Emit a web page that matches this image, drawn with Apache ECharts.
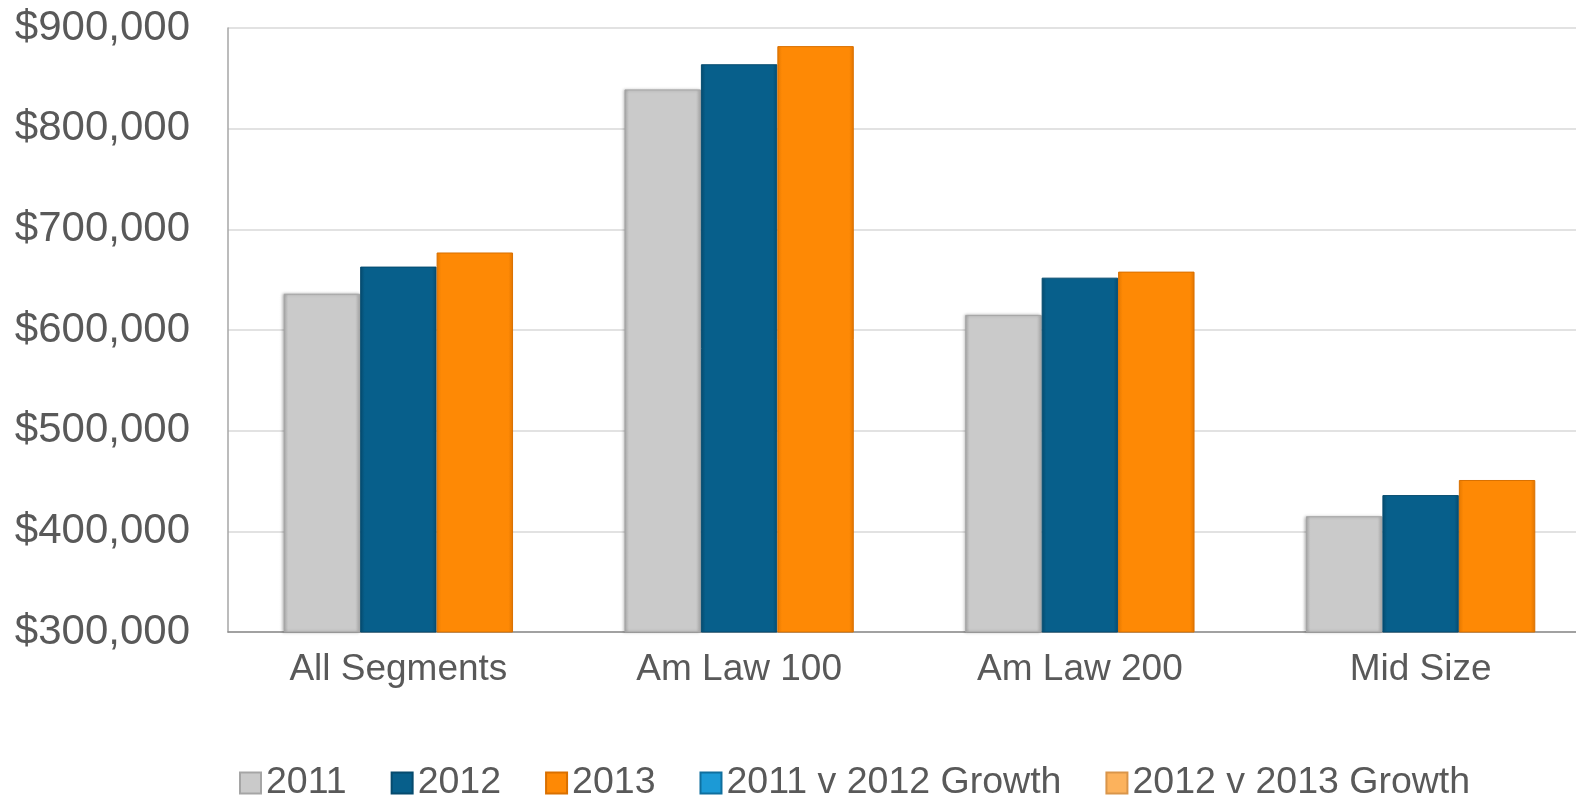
<!DOCTYPE html>
<html>
<head>
<meta charset="utf-8">
<script src="https://cdn.jsdelivr.net/npm/echarts@6/dist/echarts.min.js"></script>
<style>
html,body{margin:0;padding:0;background:#fff;overflow:hidden;}
#chart{width:1576px;height:797px;}
</style>
</head>
<body>
<div id="chart"></div>
<script>
const categories = ['All Segments', 'Am Law 100', 'Am Law 200', 'Mid Size'];
const values2011 = [636000, 839000, 615000, 415000];
const values2012 = [663000, 864000, 652000, 436000];
const values2013 = [677000, 882000, 658000, 451000];
const growth2011v2012 = [];
const growth2012v2013 = [];
const yTicks = { min: 300000, max: 900000, step: 100000 };

function grad(c1, c2, c3) {
  return new echarts.graphic.LinearGradient(0, 0, 1, 0, [
    { offset: 0, color: c1 },
    { offset: 0.06, color: c2 },
    { offset: 0.94, color: c2 },
    { offset: 1, color: c3 }
  ]);
}

const chart = echarts.init(document.getElementById('chart'), null, { renderer: 'canvas' });
const textColor = '#595959';
const font = 'Liberation Sans, Arial, sans-serif';

const barBase = {
  type: 'bar',
  xAxisIndex: 0,
  barGap: '0%',
  barCategoryGap: '32.7%'
};

chart.setOption({
  animation: false,
  backgroundColor: '#ffffff',
  textStyle: { fontFamily: font },
  grid: { left: 228, width: 1363, top: 28, bottom: 165, containLabel: false, outerBoundsMode: 'none' },
  legend: {
    left: 239,
    top: 764,
    padding: 0,
    itemWidth: 21,
    itemHeight: 21,
    itemGap: 44,
    icon: 'rect',
    textStyle: { fontSize: 37.5, color: textColor, fontFamily: font },
    data: ['2011', '2012', '2013', '2011 v 2012 Growth', '2012 v 2013 Growth']
  },
  xAxis: [
    {
      type: 'category',
      data: categories,
      axisLine: { show: true, lineStyle: { color: '#8C8C8C', width: 1.5 } },
      axisTick: { show: false },
      axisLabel: { color: textColor, fontSize: 37, fontFamily: font, margin: 19 }
    },
    {
      type: 'category',
      data: categories,
      show: false
    }
  ],
  yAxis: {
    type: 'value',
    min: yTicks.min,
    max: yTicks.max,
    interval: yTicks.step,
    axisLine: { show: true, lineStyle: { color: '#A6A6A6', width: 1.5 } },
    axisTick: { show: false },
    splitLine: { show: true, lineStyle: { color: '#D9D9D9', width: 1.5 } },
    axisLabel: {
      color: textColor,
      fontSize: 42,
      fontFamily: font,
      margin: 38,
      formatter: v => '$' + String(v).replace(/\B(?=(\d{3})+(?!\d))/g, ',')
    }
  },
  series: [
    Object.assign({}, barBase, {
      name: '2011',
      data: values2011,
      itemStyle: {
        color: grad('#A8A8A8', '#CACACA', '#B4B4B4'),
        borderColor: '#A5A5A5', borderWidth: 1,
        shadowColor: 'rgba(0,0,0,0.25)', shadowBlur: 3, shadowOffsetX: -1
      }
    }),
    Object.assign({}, barBase, {
      name: '2012',
      data: values2012,
      itemStyle: {
        color: grad('#054A6D', '#075F8B', '#054C70'),
        borderColor: '#064B6E', borderWidth: 1
      }
    }),
    Object.assign({}, barBase, {
      name: '2013',
      data: values2013,
      itemStyle: {
        color: grad('#E57800', '#FE8905', '#E07400'),
        borderColor: '#D97000', borderWidth: 1
      }
    }),
    {
      type: 'bar', name: '2011 v 2012 Growth', xAxisIndex: 1,
      data: growth2011v2012,
      itemStyle: { color: '#1C9AD6', borderColor: '#0F6F9E', borderWidth: 1 }
    },
    {
      type: 'bar', name: '2012 v 2013 Growth', xAxisIndex: 1,
      data: growth2012v2013,
      itemStyle: { color: '#FCB25C', borderColor: '#D9954A', borderWidth: 1 }
    }
  ]
});
</script>
</body>
</html>
